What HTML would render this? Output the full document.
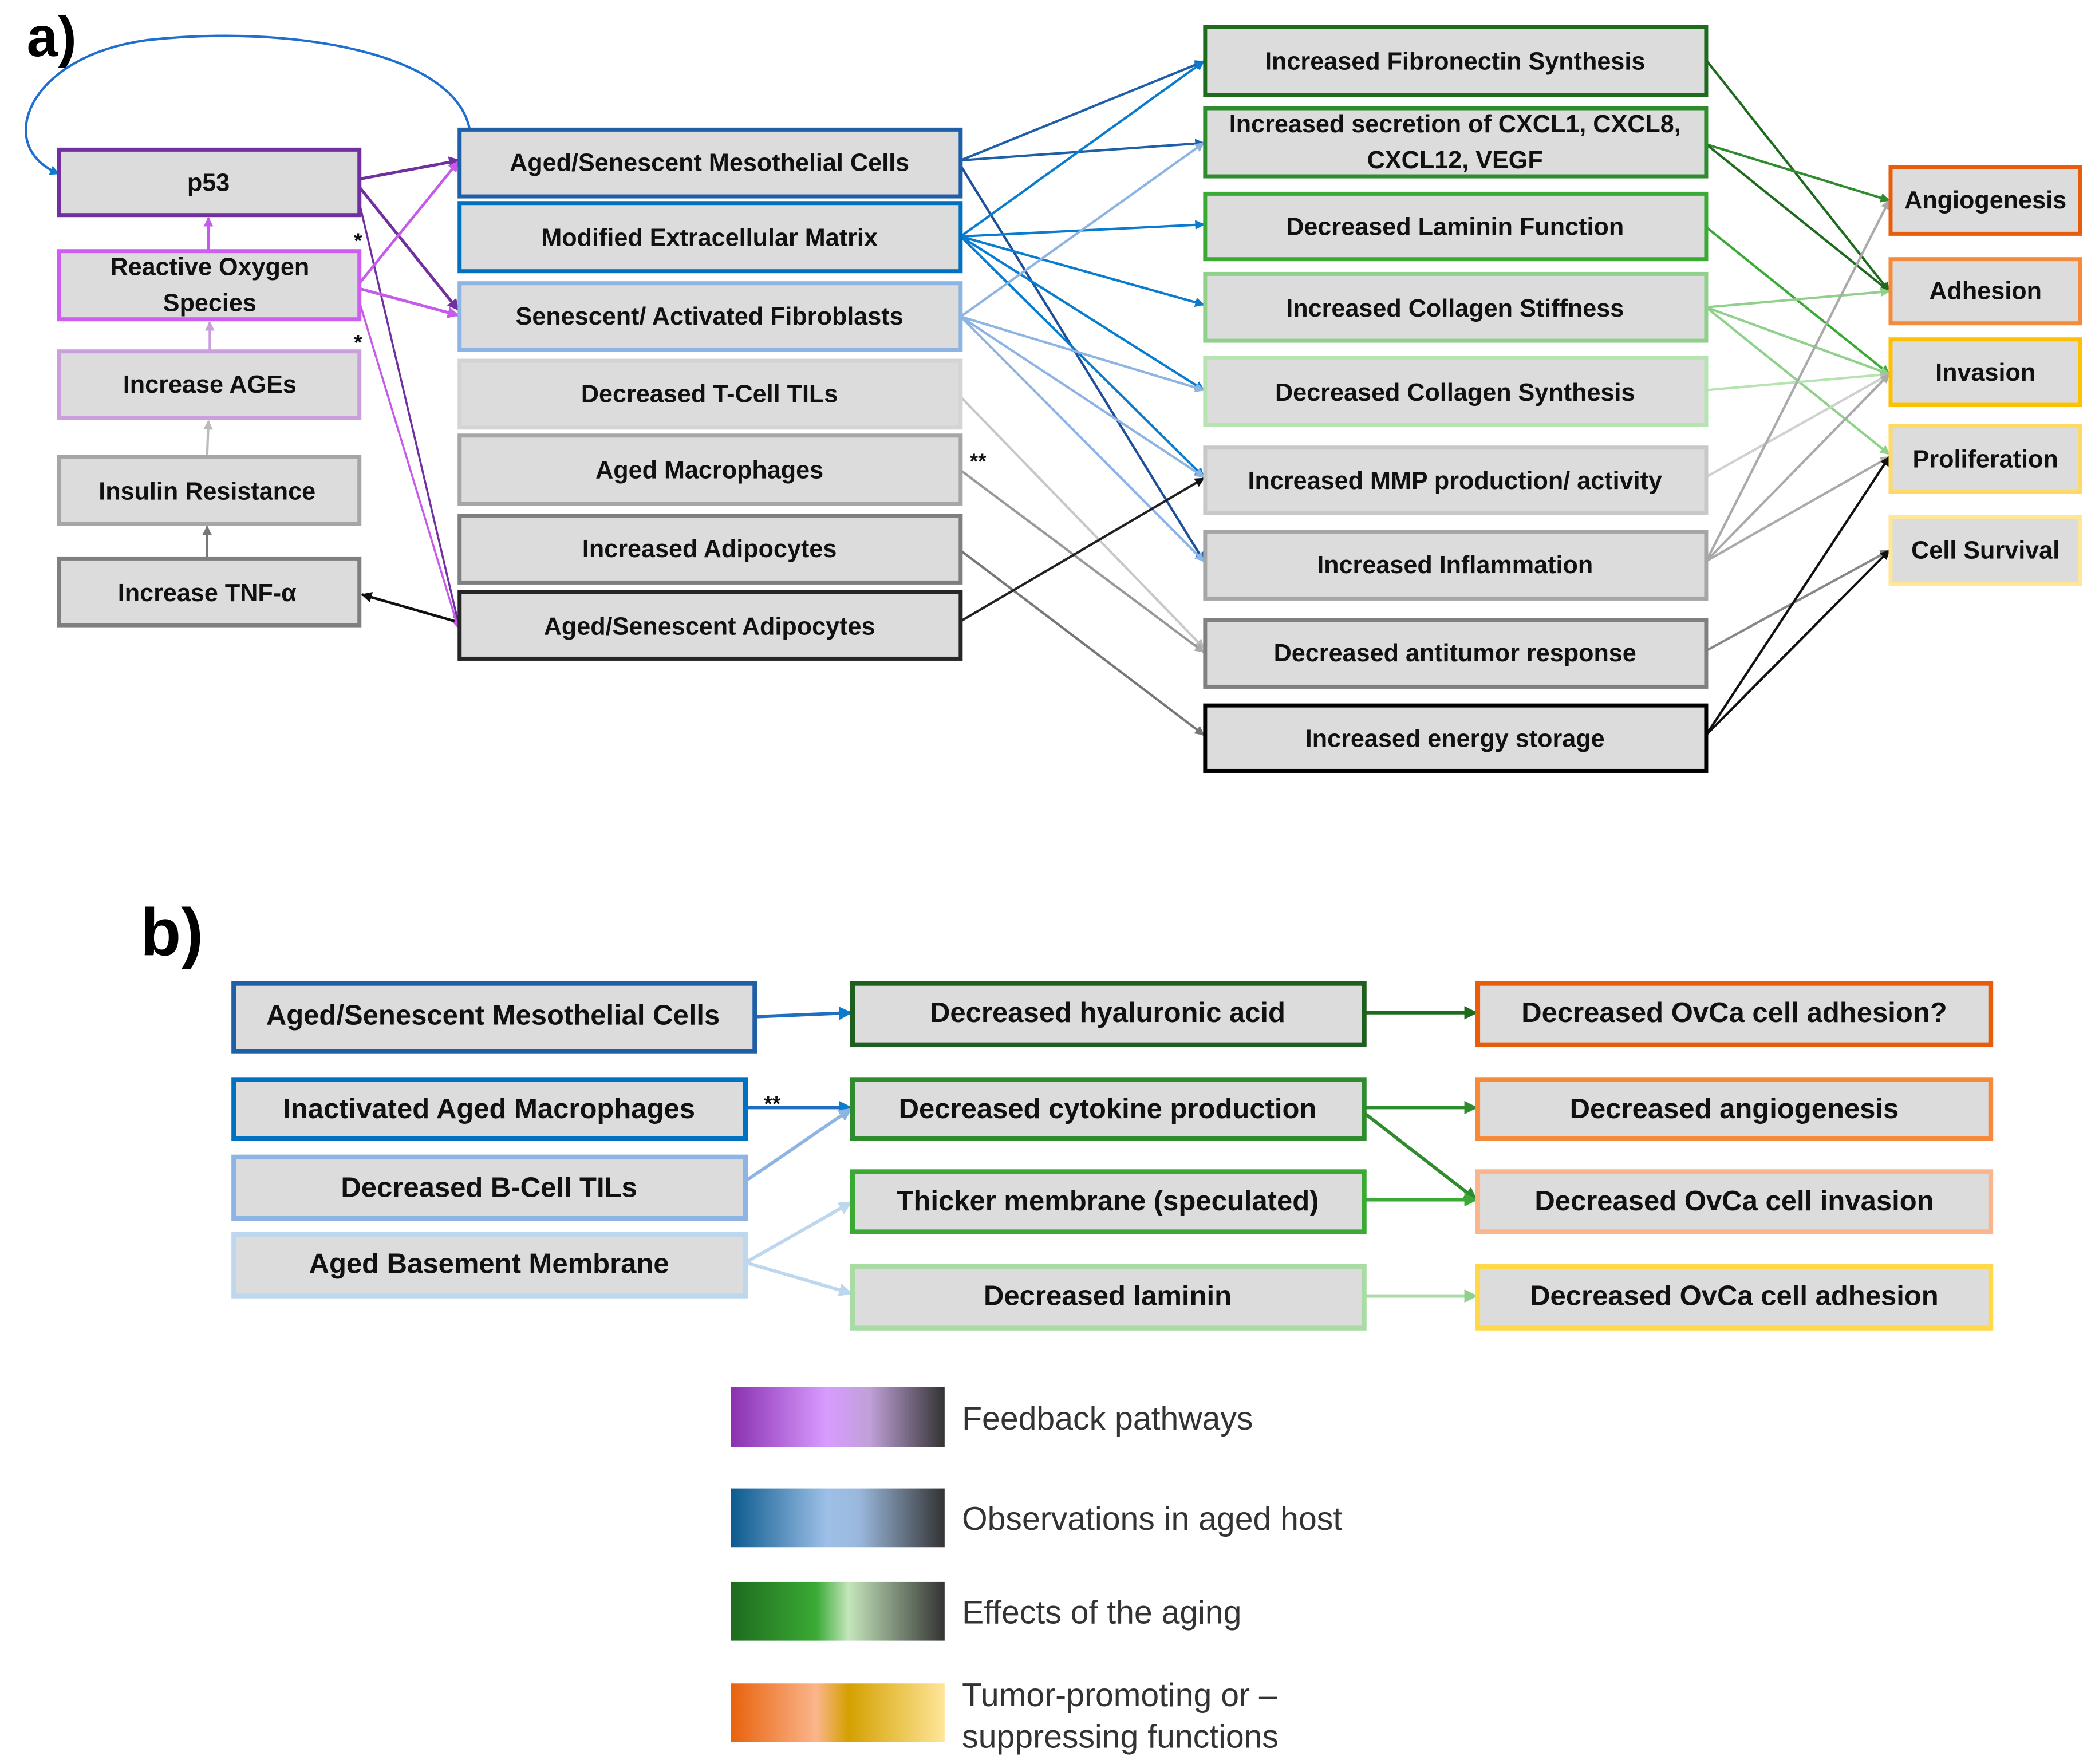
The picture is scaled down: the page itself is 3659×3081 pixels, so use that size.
<!DOCTYPE html>
<html><head><meta charset="utf-8"><style>
html,body{margin:0;padding:0;background:#fff}
svg{display:block}
.t{font-family:"Liberation Sans",sans-serif;font-weight:bold;font-size:18.5px;fill:#111;text-anchor:middle;dominant-baseline:central}
.tb{font-family:"Liberation Sans",sans-serif;font-weight:bold;font-size:21px;fill:#111;text-anchor:middle;dominant-baseline:central}
.lg{font-family:"Liberation Sans",sans-serif;font-size:24.5px;fill:#333}
</style></head><body>
<svg width="3659" height="3081" viewBox="0 0 1568 1320.3" xmlns="http://www.w3.org/2000/svg">
<defs>
<marker id="m1" viewBox="0 0 10 10" refX="9" refY="5" markerWidth="4" markerHeight="4" orient="auto"><path d="M0,0L10,5L0,10z" fill="#7030a0"/></marker>
<marker id="m2" viewBox="0 0 10 10" refX="9" refY="5" markerWidth="4" markerHeight="4" orient="auto"><path d="M0,0L10,5L0,10z" fill="#c55be8"/></marker>
<marker id="m3" viewBox="0 0 10 10" refX="9" refY="5" markerWidth="4" markerHeight="4" orient="auto"><path d="M0,0L10,5L0,10z" fill="#c9a0dc"/></marker>
<marker id="m4" viewBox="0 0 10 10" refX="9" refY="5" markerWidth="4" markerHeight="4" orient="auto"><path d="M0,0L10,5L0,10z" fill="#bbbbbb"/></marker>
<marker id="m5" viewBox="0 0 10 10" refX="9" refY="5" markerWidth="4" markerHeight="4" orient="auto"><path d="M0,0L10,5L0,10z" fill="#777"/></marker>
<marker id="m6" viewBox="0 0 10 10" refX="9" refY="5" markerWidth="4" markerHeight="4" orient="auto"><path d="M0,0L10,5L0,10z" fill="#111"/></marker>
<marker id="m7" viewBox="0 0 10 10" refX="9" refY="5" markerWidth="4" markerHeight="4" orient="auto"><path d="M0,0L10,5L0,10z" fill="#1f5fa8"/></marker>
<marker id="m8" viewBox="0 0 10 10" refX="9" refY="5" markerWidth="4" markerHeight="4" orient="auto"><path d="M0,0L10,5L0,10z" fill="#0a7cd0"/></marker>
<marker id="m9" viewBox="0 0 10 10" refX="9" refY="5" markerWidth="4" markerHeight="4" orient="auto"><path d="M0,0L10,5L0,10z" fill="#8db4e2"/></marker>
<marker id="m10" viewBox="0 0 10 10" refX="9" refY="5" markerWidth="4" markerHeight="4" orient="auto"><path d="M0,0L10,5L0,10z" fill="#1e6b1e"/></marker>
<marker id="m11" viewBox="0 0 10 10" refX="9" refY="5" markerWidth="4" markerHeight="4" orient="auto"><path d="M0,0L10,5L0,10z" fill="#2e8b2e"/></marker>
<marker id="m12" viewBox="0 0 10 10" refX="9" refY="5" markerWidth="4" markerHeight="4" orient="auto"><path d="M0,0L10,5L0,10z" fill="#8fd18a"/></marker>
<marker id="m13" viewBox="0 0 10 10" refX="9" refY="5" markerWidth="4" markerHeight="4" orient="auto"><path d="M0,0L10,5L0,10z" fill="#aaaaaa"/></marker>
<marker id="m14" viewBox="0 0 10 10" refX="9" refY="5" markerWidth="4" markerHeight="4" orient="auto"><path d="M0,0L10,5L0,10z" fill="#bdd7ee"/></marker>
<marker id="m15" viewBox="0 0 10 10" refX="9" refY="5" markerWidth="4" markerHeight="4" orient="auto"><path d="M0,0L10,5L0,10z" fill="#3aaa35"/></marker>
<linearGradient id="g1"><stop offset="0" stop-color="#8a30b0"/><stop offset=".45" stop-color="#d89cff"/><stop offset=".65" stop-color="#c0a0d8"/><stop offset="1" stop-color="#333"/></linearGradient>
<linearGradient id="g2"><stop offset="0" stop-color="#0b5a8e"/><stop offset=".45" stop-color="#9dc0e8"/><stop offset=".6" stop-color="#9ab8dc"/><stop offset="1" stop-color="#333"/></linearGradient>
<linearGradient id="g3"><stop offset="0" stop-color="#1e6b1e"/><stop offset=".4" stop-color="#3aaa35"/><stop offset=".55" stop-color="#c5e6bc"/><stop offset="1" stop-color="#333"/></linearGradient>
<linearGradient id="g4"><stop offset="0" stop-color="#e8620c"/><stop offset=".4" stop-color="#fbb58c"/><stop offset=".55" stop-color="#d4a000"/><stop offset="1" stop-color="#ffe699"/></linearGradient>
</defs>

<text x="20" y="42" style="font-family:'Liberation Sans',sans-serif;font-weight:bold;font-size:42px">a)</text>
<text x="105" y="715" style="font-family:'Liberation Sans',sans-serif;font-weight:bold;font-size:50px">b)</text>

<g fill="none" stroke-width="1.8">
<path d="M352,100 C345,40 220,18 110,30 C20,42 -5,110 44,130" stroke="#1f6fd0" marker-end="url(#m8)"/>
<line x1="156" y1="188" x2="156" y2="163" stroke="#c55be8" marker-end="url(#m2)"/>
<line x1="157" y1="263" x2="157" y2="241" stroke="#c9a0dc" marker-end="url(#m3)"/>
<line x1="155" y1="342" x2="156" y2="315" stroke="#bbbbbb" marker-end="url(#m4)"/>
<line x1="155" y1="418" x2="155" y2="394" stroke="#777" marker-end="url(#m5)"/>
<line x1="344" y1="466" x2="271" y2="445" stroke="#111" stroke-width="2" marker-end="url(#m6)"/>
<line x1="269" y1="134" x2="344" y2="120" stroke="#7030a0" stroke-width="2.2" marker-end="url(#m1)"/>
<line x1="269" y1="140" x2="343" y2="232" stroke="#7030a0" stroke-width="2.2" marker-end="url(#m1)"/>
<line x1="269" y1="152" x2="343" y2="466" stroke="#7030a0" stroke-width="1.5" marker-end="url(#m1)"/>
<line x1="269" y1="212" x2="343" y2="121" stroke="#c55be8" stroke-width="2" marker-end="url(#m2)"/>
<line x1="269" y1="216" x2="343" y2="236" stroke="#c55be8" stroke-width="2.2" marker-end="url(#m2)"/>
<line x1="269" y1="226" x2="343" y2="470" stroke="#c55be8" stroke-width="1.5" marker-end="url(#m2)"/>

<line x1="719" y1="120" x2="901" y2="46" stroke="#1f5fa8" marker-end="url(#m7)"/>
<line x1="719" y1="120" x2="901" y2="107" stroke="#1f5fa8" marker-end="url(#m7)"/>
<line x1="719" y1="124" x2="901" y2="420" stroke="#1f4f98" marker-end="url(#m7)"/>
<line x1="719" y1="177" x2="901" y2="46" stroke="#0a7cd0" marker-end="url(#m8)"/>
<line x1="719" y1="177" x2="901" y2="168" stroke="#0a7cd0" marker-end="url(#m8)"/>
<line x1="719" y1="177" x2="901" y2="228" stroke="#0a7cd0" marker-end="url(#m8)"/>
<line x1="719" y1="177" x2="901" y2="292" stroke="#0a7cd0" marker-end="url(#m8)"/>
<line x1="719" y1="177" x2="901" y2="357" stroke="#0a7cd0" marker-end="url(#m8)"/>
<line x1="719" y1="237" x2="901" y2="107" stroke="#8db4e2" marker-end="url(#m9)"/>
<line x1="719" y1="237" x2="901" y2="292" stroke="#8db4e2" marker-end="url(#m9)"/>
<line x1="719" y1="237" x2="901" y2="357" stroke="#8db4e2" marker-end="url(#m9)"/>
<line x1="719" y1="237" x2="901" y2="420" stroke="#8db4e2" marker-end="url(#m9)"/>
<line x1="719" y1="297" x2="901" y2="485" stroke="#c8c8c8" marker-end="url(#m4)"/>
<line x1="719" y1="352" x2="901" y2="488" stroke="#999" marker-end="url(#m13)"/>
<line x1="719" y1="412" x2="901" y2="550" stroke="#777" marker-end="url(#m5)"/>
<line x1="719" y1="465" x2="901" y2="358" stroke="#222" marker-end="url(#m6)"/>

<line x1="1277" y1="45" x2="1414" y2="218" stroke="#1e6b1e" marker-end="url(#m10)"/>
<line x1="1277" y1="108" x2="1414" y2="150" stroke="#2e8b2e" marker-end="url(#m11)"/>
<line x1="1277" y1="108" x2="1414" y2="218" stroke="#1e6b1e" marker-end="url(#m10)"/>
<line x1="1277" y1="170" x2="1414" y2="280" stroke="#3aaa35" marker-end="url(#m15)"/>
<line x1="1277" y1="230" x2="1414" y2="218" stroke="#8fd18a" marker-end="url(#m12)"/>
<line x1="1277" y1="230" x2="1414" y2="280" stroke="#8fd18a" marker-end="url(#m12)"/>
<line x1="1277" y1="230" x2="1414" y2="340" stroke="#8fd18a" marker-end="url(#m12)"/>
<line x1="1277" y1="292" x2="1414" y2="280" stroke="#b5e4b0" marker-end="url(#m12)"/>
<line x1="1277" y1="357" x2="1414" y2="280" stroke="#d0d0d0" marker-end="url(#m4)"/>
<line x1="1277" y1="420" x2="1414" y2="150" stroke="#aaa" marker-end="url(#m13)"/>
<line x1="1277" y1="420" x2="1414" y2="280" stroke="#aaa" marker-end="url(#m13)"/>
<line x1="1277" y1="420" x2="1414" y2="342" stroke="#aaa" marker-end="url(#m13)"/>
<line x1="1277" y1="487" x2="1414" y2="412" stroke="#888" marker-end="url(#m5)"/>
<line x1="1277" y1="550" x2="1414" y2="342" stroke="#111" marker-end="url(#m6)"/>
<line x1="1277" y1="550" x2="1414" y2="412" stroke="#111" marker-end="url(#m6)"/>

<line x1="565" y1="761" x2="637" y2="758" stroke="#1f6fc0" stroke-width="2.5" marker-end="url(#m8)"/>
<line x1="558" y1="829" x2="637" y2="829" stroke="#1f6fc0" stroke-width="2.5" marker-end="url(#m8)"/>
<line x1="558" y1="884" x2="637" y2="830" stroke="#8db4e2" stroke-width="2.5" marker-end="url(#m9)"/>
<line x1="558" y1="945" x2="637" y2="900" stroke="#bdd7ee" stroke-width="2.5" marker-end="url(#m14)"/>
<line x1="558" y1="945" x2="637" y2="968" stroke="#bdd7ee" stroke-width="2.5" marker-end="url(#m14)"/>
<line x1="1021" y1="758" x2="1105" y2="758" stroke="#1e6b1e" stroke-width="2.5" marker-end="url(#m10)"/>
<line x1="1021" y1="829" x2="1105" y2="829" stroke="#2e8b2e" stroke-width="2.5" marker-end="url(#m11)"/>
<line x1="1021" y1="833" x2="1105" y2="898" stroke="#2e8b2e" stroke-width="2.5" marker-end="url(#m11)"/>
<line x1="1021" y1="898" x2="1105" y2="898" stroke="#3aaa35" stroke-width="2.5" marker-end="url(#m15)"/>
<line x1="1021" y1="970" x2="1105" y2="970" stroke="#a9dba4" stroke-width="2.5" marker-end="url(#m12)"/>
</g>

<g fill="#dcdcdc" stroke-width="3">
<rect x="44" y="112" width="225" height="49" stroke="#7030a0"/>
<rect x="44" y="188" width="225" height="51" stroke="#cc5ff0"/>
<rect x="44" y="263" width="225" height="50" stroke="#c9a0dc"/>
<rect x="44" y="342" width="225" height="50" stroke="#a6a6a6"/>
<rect x="44" y="418" width="225" height="50" stroke="#7f7f7f"/>
<rect x="344" y="97" width="375" height="50" stroke="#1f5fa8"/>
<rect x="344" y="152" width="375" height="51" stroke="#0070c0"/>
<rect x="344" y="212" width="375" height="50" stroke="#8db4e2"/>
<rect x="344" y="270" width="375" height="50" stroke="#d4d4d4"/>
<rect x="344" y="326" width="375" height="51" stroke="#a6a6a6"/>
<rect x="344" y="386" width="375" height="50" stroke="#7f7f7f"/>
<rect x="344" y="443" width="375" height="50" stroke="#262626"/>
<rect x="902" y="20" width="375" height="51" stroke="#1e6b1e"/>
<rect x="902" y="81" width="375" height="51" stroke="#2e8b2e"/>
<rect x="902" y="145" width="375" height="49" stroke="#3aaa35"/>
<rect x="902" y="205" width="375" height="50" stroke="#8fd18a"/>
<rect x="902" y="268" width="375" height="50" stroke="#b5e4b0"/>
<rect x="902" y="335" width="375" height="49" stroke="#c8c8c8"/>
<rect x="902" y="398" width="375" height="50" stroke="#a6a6a6"/>
<rect x="902" y="464" width="375" height="50" stroke="#808080"/>
<rect x="902" y="528" width="375" height="49" stroke="#000"/>
<rect x="1415" y="125" width="142" height="50" stroke="#e85d0c"/>
<rect x="1415" y="194" width="142" height="48" stroke="#f58a3a"/>
<rect x="1415" y="254" width="142" height="49" stroke="#ffc000"/>
<rect x="1415" y="319" width="142" height="49" stroke="#ffd966"/>
<rect x="1415" y="387" width="142" height="50" stroke="#ffe699"/>
</g>
<g fill="#dcdcdc" stroke-width="3.6">
<rect x="175" y="736" width="390" height="51" stroke="#1f5fa8"/>
<rect x="175" y="808" width="383" height="44" stroke="#0070c0"/>
<rect x="175" y="866" width="383" height="46" stroke="#8db4e2"/>
<rect x="175" y="924" width="383" height="46" stroke="#bdd7ee"/>
<rect x="638" y="736" width="383" height="46" stroke="#1e5e1e"/>
<rect x="638" y="808" width="383" height="44" stroke="#2e8b2e"/>
<rect x="638" y="877" width="383" height="45" stroke="#3aaa35"/>
<rect x="638" y="948" width="383" height="46" stroke="#a9dba4"/>
<rect x="1106" y="736" width="384" height="46" stroke="#e85d0c"/>
<rect x="1106" y="808" width="384" height="44" stroke="#f58a3a"/>
<rect x="1106" y="877" width="384" height="45" stroke="#fbb58c"/>
<rect x="1106" y="948" width="384" height="46" stroke="#ffd94a"/>
</g>

<text class="t" x="156" y="137">p53</text>
<text class="t" x="157" y="200">Reactive Oxygen</text>
<text class="t" x="157" y="227">Species</text>
<text class="t" x="157" y="288">Increase AGEs</text>
<text class="t" x="155" y="368">Insulin Resistance</text>
<text class="t" x="155" y="444">Increase TNF-α</text>
<text class="t" x="531" y="122">Aged/Senescent  Mesothelial Cells</text>
<text class="t" x="531" y="178">Modified Extracellular Matrix</text>
<text class="t" x="531" y="237">Senescent/ Activated Fibroblasts</text>
<text class="t" x="531" y="295">Decreased T-Cell TILs</text>
<text class="t" x="531" y="352">Aged Macrophages</text>
<text class="t" x="531" y="411">Increased Adipocytes</text>
<text class="t" x="531" y="469">Aged/Senescent Adipocytes</text>
<text class="t" x="1089" y="46">Increased Fibronectin Synthesis</text>
<text class="t" x="1089" y="93">Increased secretion of CXCL1, CXCL8,</text>
<text class="t" x="1089" y="120">CXCL12, VEGF</text>
<text class="t" x="1089" y="170">Decreased Laminin Function</text>
<text class="t" x="1089" y="231">Increased Collagen Stiffness</text>
<text class="t" x="1089" y="294">Decreased Collagen Synthesis</text>
<text class="t" x="1089" y="360">Increased MMP production/ activity</text>
<text class="t" x="1089" y="423">Increased Inflammation</text>
<text class="t" x="1089" y="489">Decreased antitumor response</text>
<text class="t" x="1089" y="553">Increased energy storage</text>
<text class="t" x="1486" y="150">Angiogenesis</text>
<text class="t" x="1486" y="218">Adhesion</text>
<text class="t" x="1486" y="279">Invasion</text>
<text class="t" x="1486" y="344">Proliferation</text>
<text class="t" x="1486" y="412">Cell Survival</text>
<text class="t" x="268" y="180" style="font-size:16px">*</text>
<text class="t" x="268" y="256" style="font-size:16px">*</text>
<text class="t" x="732" y="345" style="font-size:16px">**</text>

<text class="tb" x="369" y="760">Aged/Senescent Mesothelial Cells</text>
<text class="tb" x="366" y="830">Inactivated Aged Macrophages</text>
<text class="tb" x="366" y="889">Decreased B-Cell TILs</text>
<text class="tb" x="366" y="946">Aged Basement Membrane</text>
<text class="tb" x="829" y="758">Decreased hyaluronic acid</text>
<text class="tb" x="829" y="830">Decreased cytokine production</text>
<text class="tb" x="829" y="899">Thicker membrane (speculated)</text>
<text class="tb" x="829" y="970">Decreased laminin</text>
<text class="tb" x="1298" y="758">Decreased OvCa cell adhesion?</text>
<text class="tb" x="1298" y="830">Decreased angiogenesis</text>
<text class="tb" x="1298" y="899">Decreased OvCa cell invasion</text>
<text class="tb" x="1298" y="970">Decreased OvCa cell adhesion</text>
<text class="t" x="578" y="826" style="font-size:16px">**</text>

<rect x="547" y="1038" width="160" height="45" fill="url(#g1)"/>
<rect x="547" y="1114" width="160" height="44" fill="url(#g2)"/>
<rect x="547" y="1184" width="160" height="44" fill="url(#g3)"/>
<rect x="547" y="1260" width="160" height="44" fill="url(#g4)"/>
<text class="lg" x="720" y="1070">Feedback pathways</text>
<text class="lg" x="720" y="1145">Observations in aged host</text>
<text class="lg" x="720" y="1215">Effects of the aging</text>
<text class="lg" x="720" y="1277">Tumor-promoting or –</text>
<text class="lg" x="720" y="1308">suppressing functions</text>
</svg>
</body></html>
